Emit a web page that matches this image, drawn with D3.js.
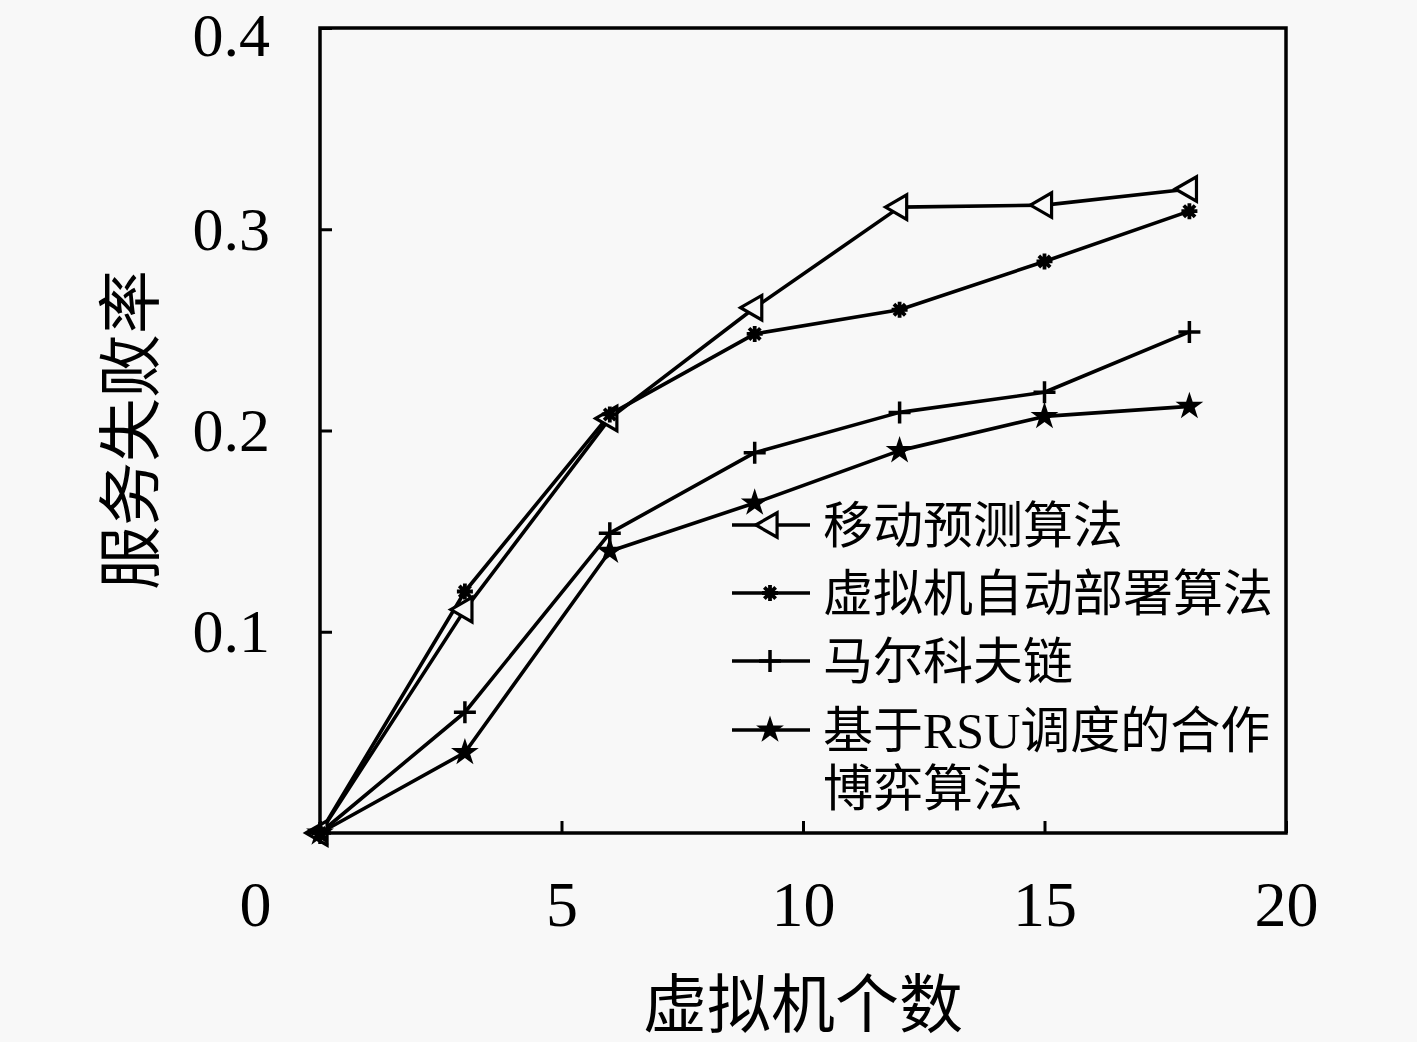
<!DOCTYPE html>
<html>
<head>
<meta charset="utf-8">
<script src="https://cdn.jsdelivr.net/npm/d3@7"></script>
<style>
  html, body { margin: 0; padding: 0; background: #f8f8f8; }
  svg { display: block; }
</style>
</head>
<body>
<svg id="chart"></svg>
<script>
const width = 1417; // Width of the SVG
const height = 1042; // Height of the SVG

// Number of virtual machines (x values)
const vmCounts = [0, 3, 6, 9, 12, 15, 18];

// Series names, as in the legend
const seriesNames = [
  "移动预测算法",
  "虚拟机自动部署算法",
  "马尔科夫链",
  "基于RSU调度的合作博弈算法",
];

// Service failure rate for each series
const mobilityPrediction = [0, 0.111, 0.206, 0.261, 0.311, 0.312, 0.32];
const vmAutoDeploy = [0, 0.12, 0.208, 0.248, 0.26, 0.284, 0.309];
const markovChain = [0, 0.06, 0.149, 0.189, 0.209, 0.219, 0.249];
const rsuGame = [0, 0.04, 0.14, 0.164, 0.19, 0.207, 0.212];

// Tick values
const xTicks = [0, 5, 10, 15, 20];
const yTicks = [0.1, 0.2, 0.3, 0.4];

const xTitle = "虚拟机个数";
const yTitle = "服务失败率";

const series = [
  { name: seriesNames[0], values: mobilityPrediction, marker: "triangle" },
  { name: seriesNames[1], values: vmAutoDeploy, marker: "asterisk" },
  { name: seriesNames[2], values: markovChain, marker: "plus" },
  { name: seriesNames[3], values: rsuGame, marker: "star" },
];

const margin = { top: 28, right: 131, bottom: 209, left: 320 };
const innerW = width - margin.left - margin.right;
const innerH = height - margin.top - margin.bottom;

const numFont = "'Liberation Serif', 'Noto Sans CJK SC', serif";
const cjkFont = "'Liberation Serif', 'Noto Sans CJK SC', sans-serif";

const svg = d3.select("#chart").attr("width", width).attr("height", height);

const g = svg
  .append("g")
  .attr("transform", `translate(${margin.left},${margin.top})`);

const x = d3.scaleLinear().domain([0, 20]).range([0, innerW]);
const y = d3.scaleLinear().domain([0, 0.4]).range([innerH, 0]);

// x axis, ticks pointing inward
const xAxis = g
  .append("g")
  .attr("transform", `translate(0,${innerH})`)
  .call(
    d3.axisBottom(x).tickValues(xTicks).tickSize(-12).tickPadding(48).tickFormat(d3.format("d"))
  );
xAxis.select(".domain").remove();
xAxis.selectAll("line").attr("stroke", "#000").attr("stroke-width", 3);
xAxis
  .selectAll("text")
  .attr("font-family", numFont)
  .attr("font-size", 64)
  .attr("fill", "#000")
  .attr("dx", (d) => (d === 0 ? -65 : 0)); // the 0 label sits left of the frame

// y axis
const yAxis = g
  .append("g")
  .call(
    d3.axisLeft(y).tickValues(yTicks).tickSize(-12).tickPadding(50).tickFormat(d3.format(".1f"))
  );
yAxis.select(".domain").remove();
yAxis.selectAll("line").attr("stroke", "#000").attr("stroke-width", 3);
yAxis
  .selectAll("text")
  .attr("font-family", numFont)
  .attr("font-size", 62)
  .attr("fill", "#000")
  .attr("dy", (d) => (d === 0.4 ? "0.45em" : "0.32em"));

// frame
g.append("rect")
  .attr("width", innerW)
  .attr("height", innerH)
  .attr("fill", "none")
  .attr("stroke", "#000")
  .attr("stroke-width", 3.5);

// marker shapes
function drawMarker(sel, type) {
  if (type === "triangle") {
    sel
      .append("path")
      .attr("d", d3.symbol(d3.symbolTriangle, 260)())
      .attr("transform", "rotate(-90)")
      .attr("fill", "#f8f8f8")
      .attr("stroke", "#000")
      .attr("stroke-width", 3.2);
  } else if (type === "asterisk") {
    const r = 8;
    const p = d3.path();
    for (let i = 0; i < 4; i++) {
      const a = (i * Math.PI) / 4;
      p.moveTo(-r * Math.cos(a), -r * Math.sin(a));
      p.lineTo(r * Math.cos(a), r * Math.sin(a));
    }
    sel
      .append("path")
      .attr("d", p.toString())
      .attr("stroke", "#000")
      .attr("stroke-width", 3.8);
  } else if (type === "plus") {
    const r = 11;
    const p = d3.path();
    p.moveTo(-r, 0);
    p.lineTo(r, 0);
    p.moveTo(0, -r);
    p.lineTo(0, r);
    sel
      .append("path")
      .attr("d", p.toString())
      .attr("stroke", "#000")
      .attr("stroke-width", 3.5);
  } else if (type === "star") {
    sel
      .append("path")
      .attr("d", d3.symbol(d3.symbolStar, 240)())
      .attr("fill", "#000");
  }
}

const line = d3
  .line()
  .x((d, i) => x(vmCounts[i]))
  .y((d) => y(d));

series.forEach((s) => {
  g.append("path")
    .datum(s.values)
    .attr("fill", "none")
    .attr("stroke", "#000")
    .attr("stroke-width", 3.6)
    .attr("stroke-linejoin", "round")
    .attr("d", line);
});

series.forEach((s) => {
  s.values.forEach((v, i) => {
    const m = g
      .append("g")
      .attr("transform", `translate(${x(vmCounts[i])},${y(v)})`);
    drawMarker(m, s.marker);
  });
});

// legend
const legend = g.append("g").attr("transform", "translate(412,497)");
const legendRows = [0, 68, 136, 205];
series.forEach((s, i) => {
  const row = legend.append("g").attr("transform", `translate(0,${legendRows[i]})`);
  row
    .append("line")
    .attr("x1", 0)
    .attr("x2", 78)
    .attr("stroke", "#000")
    .attr("stroke-width", 3.6);
  drawMarker(row.append("g").attr("transform", "translate(38,0)"), s.marker);
  const label = row
    .append("text")
    .attr("x", 91)
    .attr("y", 0)
    .attr("dy", "0.36em")
    .attr("font-family", cjkFont)
    .attr("font-size", 50)
    .attr("fill", "#000");
  if (i === 3) {
    label.append("tspan").attr("x", 91).text(s.name.slice(0, 10));
    label.append("tspan").attr("x", 91).attr("dy", 58).text(s.name.slice(10));
  } else {
    label.text(s.name);
  }
});

// axis titles
svg
  .append("text")
  .attr("x", margin.left + x(10))
  .attr("y", 1027)
  .attr("text-anchor", "middle")
  .attr("font-family", cjkFont)
  .attr("font-size", 64)
  .attr("fill", "#000")
  .text(xTitle);

svg
  .append("text")
  .attr("transform", "translate(153,430) rotate(-90)")
  .attr("text-anchor", "middle")
  .attr("font-family", cjkFont)
  .attr("font-size", 64)
  .attr("fill", "#000")
  .text(yTitle);
</script>
</body>
</html>
